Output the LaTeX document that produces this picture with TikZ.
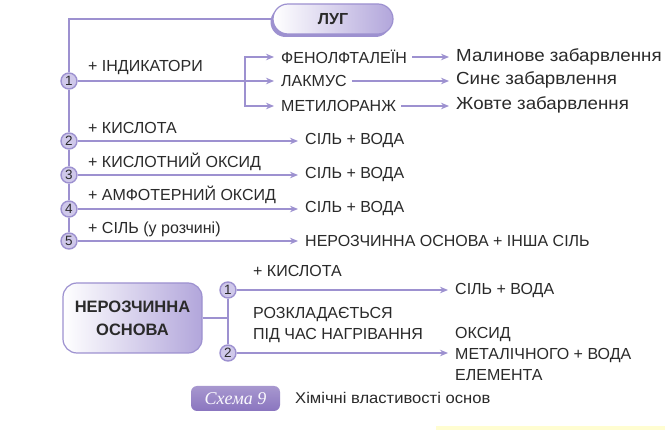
\documentclass[tikz,border=0pt]{standalone}
\usepackage{fontspec}
\setmainfont{Liberation Sans}
\newfontfamily\widefont[FakeStretch=1.07]{Liberation Sans}
\newfontfamily\capfont{Liberation Serif}
\usetikzlibrary{arrows.meta,shadows}
\definecolor{lav}{HTML}{9D91D0}
\definecolor{lavl}{HTML}{CFC8EA}
\definecolor{lavd}{HTML}{B2A6DB}
\definecolor{capc}{HTML}{8A75BF}
\definecolor{txtc}{HTML}{2A2A2A}
\tikzset{
  ln/.style={draw=lav, line width=1.5pt},
  arr/.style={ln, -{Stealth[length=8pt,width=6.5pt]}, shorten >=7pt},
  gap/.style={shorten <=5pt},
  num/.style={circle, draw=lav, fill=lavl, line width=1.4pt, inner sep=0pt,
    minimum size=16pt, text=txtc, font=\fontsize{13.5}{13.5}\selectfont},
  txt/.style={anchor=west, inner sep=0pt, text=txtc, font=\fontsize{16}{21}\selectfont},
  lc/.style={txt, font=\widefont\fontsize{17.5}{21}\selectfont},
  lbl/.style={txt, anchor=base west},
}
\begin{document}
\begin{tikzpicture}[x=1pt,y=-1pt]
\useasboundingbox (0,0) rectangle (665,430);
\fill[white] (0,0) rectangle (665,430);
\fill[yellow!18] (436,426) rectangle (665,430);

% top box
\node[draw=lav, line width=1.2pt, rounded corners=15pt, minimum width=120pt, minimum height=30pt,
  left color=white, right color=lavd,
  drop shadow={shadow xshift=-2.5pt, shadow yshift=-3pt, fill=lav, opacity=1},
  font=\bfseries\fontsize{16}{16}\selectfont, text=txtc] (lug) at (333,19) {ЛУГ};

% numbered circles
\node[num] (c1) at (69,81) {1};
\node[num] (c2) at (69,141) {2};
\node[num] (c3) at (69,175) {3};
\node[num] (c4) at (69,209) {4};
\node[num] (c5) at (69,241) {5};

\coordinate (corner) at (69,19);
\draw[ln] (lug.west) -- (corner) -- (c1);
\draw[ln] (c1) -- (c2);
\draw[ln] (c2) -- (c3);
\draw[ln] (c3) -- (c4);
\draw[ln] (c4) -- (c5);

% labels
\node[lbl] (l1) at (88,72) {+ ІНДИКАТОРИ};
\node[lbl] (l2) at (88,134) {+ КИСЛОТА};
\node[lbl] (l3) at (88,168) {+ КИСЛОТНИЙ ОКСИД};
\node[lbl] (l4) at (88,201) {+ АМФОТЕРНИЙ ОКСИД};
\node[lbl] (l5) at (88,234) {+ СІЛЬ (у розчині)};

% indicators
\node[txt] (fen) at (281,57) {ФЕНОЛФТАЛЕЇН};
\node[txt] (lak) at (281,81) {ЛАКМУС};
\node[txt] (met) at (281,106) {МЕТИЛОРАНЖ};
\node[lc] (r1) at (456,57) {Малинове забарвлення};
\node[lc] (r2) at (456,80) {Синє забарвлення};
\node[lc] (r3) at (456,105) {Жовте забарвлення};
\coordinate (br) at (245,81);
\draw[ln] (c1) -- (br);
\draw[arr] (br) |- (fen.west);
\draw[arr] (br) -- (lak.west);
\draw[arr] (br) |- (met.west);
\draw[arr,gap] (fen.east) -- (fen.east -| r1.west);
\draw[arr,gap] (lak.east) -- (lak.east -| r2.west);
\draw[arr,gap] (met.east) -- (met.east -| r3.west);

% products
\node[txt] (p2) at (305,141) {СІЛЬ + ВОДА};
\node[txt] (p3) at (305,175) {СІЛЬ + ВОДА};
\node[txt] (p4) at (305,209) {СІЛЬ + ВОДА};
\node[txt] (p5) at (305,241) {НЕРОЗЧИННА ОСНОВА + ІНША СІЛЬ};
\draw[arr] (c2) -- (c2 -| p2.west);
\draw[arr] (c3) -- (c3 -| p3.west);
\draw[arr] (c4) -- (c4 -| p4.west);
\draw[arr] (c5) -- (c5 -| p5.west);

% insoluble base
\node[draw=lav, line width=1.2pt, rounded corners=14pt, minimum width=139pt, minimum height=70pt,
  left color=white, right color=lavd, align=center, text=txtc,
  font=\bfseries\fontsize{16.5}{23}\selectfont] (ins) at (132.5,318) {НЕРОЗЧИННА\\ОСНОВА};
\node[num] (b1) at (228,290) {1};
\node[num] (b2) at (228,353) {2};
\coordinate (j) at (228,318);
\draw[ln] (ins.east) -- (j);
\draw[ln] (b1) -- (b2);
\node[lbl] (k1) at (253,277) {+ КИСЛОТА};
\node[txt, align=left] (k2) at (253,325) {РОЗКЛАДАЄТЬСЯ\\ПІД ЧАС НАГРІВАННЯ};
\node[txt] (q1) at (455,291) {СІЛЬ + ВОДА};
\node[txt, align=left] (q2) at (455,354) {ОКСИД\\МЕТАЛІЧНОГО + ВОДА\\ЕЛЕМЕНТА};
\draw[arr] (b1) -- (b1 -| q1.west);
\draw[arr] (b2) -- (b2 -| q2.west);

% caption
\node[rounded corners=6pt, minimum width=89pt, minimum height=25pt, top color=capc!75, bottom color=capc,
  text=white!90!lavl, font=\capfont\itshape\fontsize{18}{18}\selectfont] (cap) at (235.5,398.5) {Схема 9};
\node[txt, font=\widefont\fontsize{15.5}{17}\selectfont] (capt) at (295,398) {Хімічні властивості основ};
\end{tikzpicture}
\end{document}
